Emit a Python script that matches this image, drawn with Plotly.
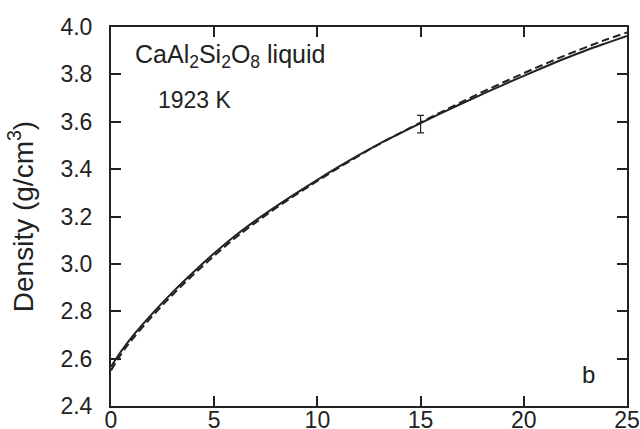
import plotly.graph_objects as go

# Pressure (GPa) grid and densities (g/cm^3)
pressure = [0, 0.5, 1, 2, 3, 4, 5, 6, 7, 8, 9, 10, 11, 12, 13, 14, 15, 16, 17, 18, 19, 20, 21, 22, 23, 24, 25]
density_solid = [2.566, 2.632, 2.690, 2.790, 2.882, 2.966, 3.045, 3.118, 3.183, 3.243, 3.300, 3.355, 3.408,
                 3.459, 3.507, 3.551, 3.594, 3.636, 3.677, 3.717, 3.756, 3.794, 3.831, 3.867, 3.901, 3.932, 3.962]
density_dashed = [2.550, 2.620, 2.678, 2.779, 2.871, 2.955, 3.034, 3.108, 3.174, 3.236, 3.294, 3.350, 3.404,
                  3.456, 3.506, 3.552, 3.597, 3.641, 3.684, 3.726, 3.766, 3.805, 3.843, 3.880, 3.914, 3.947, 3.977]

point_x = [15]
point_y = [3.59]
point_err = [0.037]

x_ticks = [0, 5, 10, 15, 20, 25]
y_ticks = [2.4, 2.6, 2.8, 3.0, 3.2, 3.4, 3.6, 3.8, 4.0]

ink = "#222222"
font = "Liberation Sans, Arial, Helvetica, sans-serif"

fig = go.Figure()
fig.add_trace(go.Scatter(x=pressure, y=density_dashed, mode="lines", line_shape="spline",
                         line=dict(color=ink, width=2, dash="8px,4px"), showlegend=False))
fig.add_trace(go.Scatter(x=pressure, y=density_solid, mode="lines", line_shape="spline",
                         line=dict(color=ink, width=2), showlegend=False))
fig.add_trace(go.Scatter(x=point_x, y=point_y, mode="markers",
                         marker=dict(size=1, color=ink),
                         error_y=dict(type="data", array=point_err, color=ink, thickness=1.2, width=3.5),
                         showlegend=False))

axis_common = dict(showgrid=False, zeroline=False, showline=True, linecolor=ink, linewidth=2,
                   mirror="ticks", ticks="inside", ticklen=10, tickwidth=2, tickcolor=ink,
                   automargin=False,
                   tickfont=dict(family=font, size=23, color=ink))

fig.update_xaxes(range=[0, 25], tickvals=x_ticks, ticktext=[str(v) for v in x_ticks],
                 ticklabelstandoff=-8, **axis_common)
fig.update_yaxes(range=[2.4, 4.0], tickvals=y_ticks, ticktext=[f"{v:.1f}" for v in y_ticks],
                 ticklabelstandoff=12,
                 title=dict(text="Density (g/cm<sup>3</sup>)", font=dict(family=font, size=28, color=ink),
                            standoff=19),
                 **axis_common)

fig.add_annotation(x=0.042, y=0.923, xref="paper", yref="paper", xanchor="left", yanchor="middle",
                   text="CaAl<sub>2</sub>Si<sub>2</sub>O<sub>8</sub> liquid", showarrow=False,
                   font=dict(family=font, size=25, color=ink))
fig.add_annotation(x=0.087, y=0.807, xref="paper", yref="paper", xanchor="left", yanchor="middle",
                   text="1923 K", showarrow=False,
                   font=dict(family=font, size=23, color=ink))
fig.add_annotation(x=0.926, y=0.084, xref="paper", yref="paper", xanchor="center", yanchor="middle",
                   text="b", showarrow=False,
                   font=dict(family=font, size=24, color=ink))

fig.update_layout(width=640, height=429, margin=dict(l=111, r=13, t=27, b=23),
                  paper_bgcolor="white", plot_bgcolor="white")

fig.write_html("out.html")
